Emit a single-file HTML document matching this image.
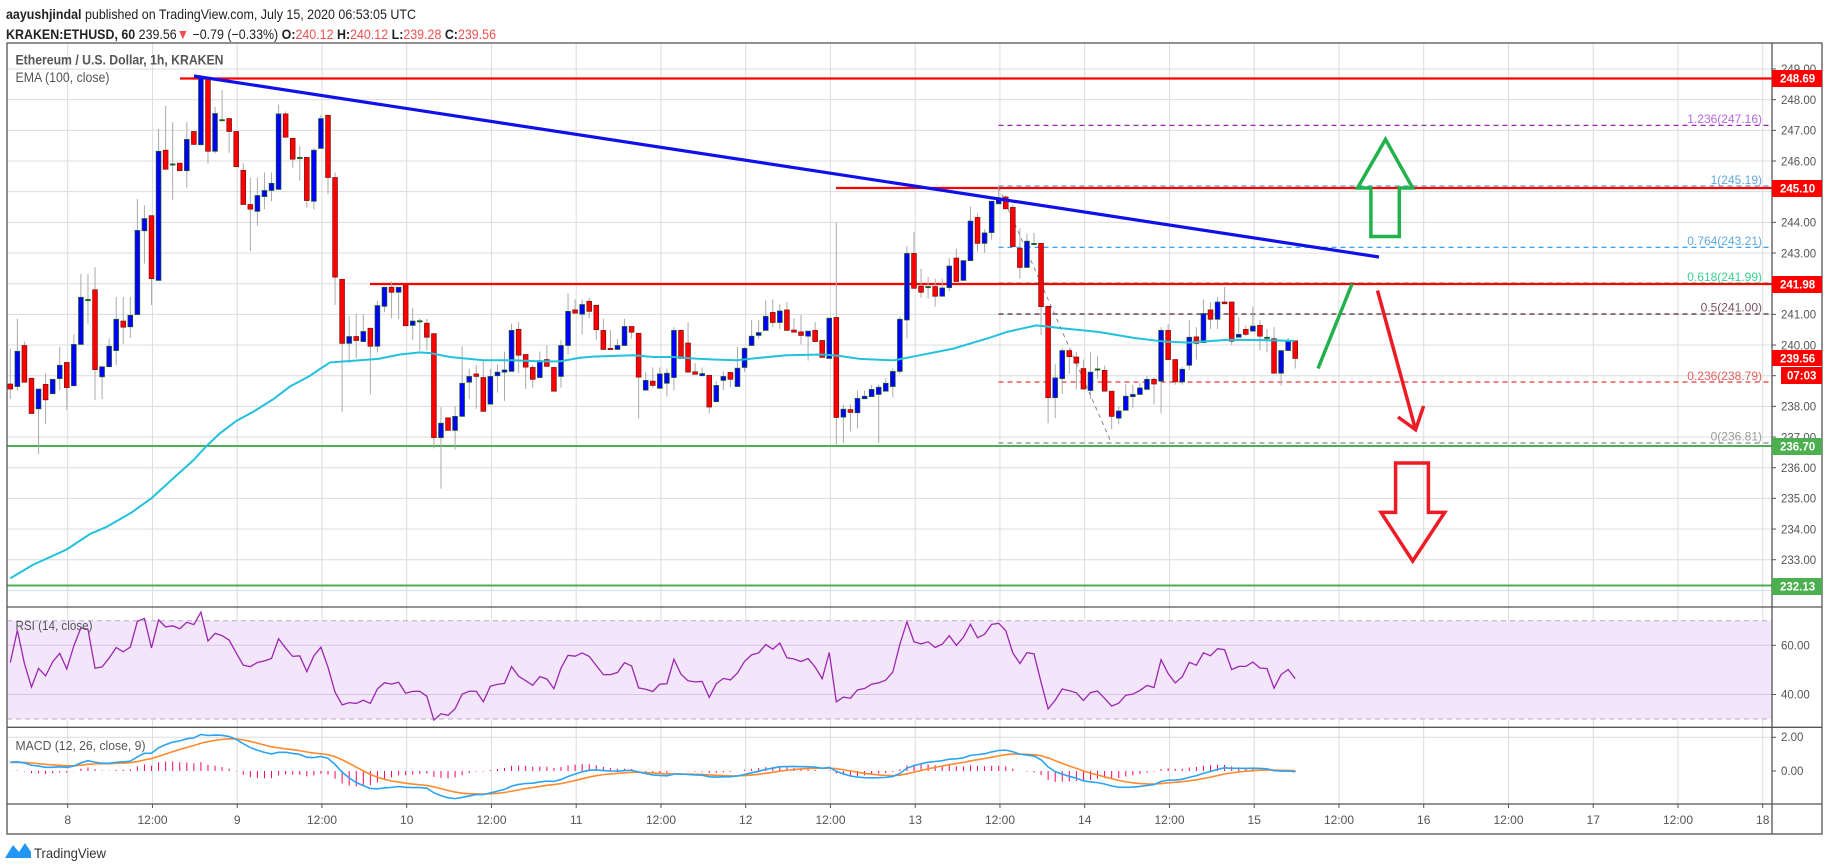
<!DOCTYPE html>
<html><head><meta charset="utf-8">
<style>
html,body{margin:0;padding:0;background:#fff;width:1828px;height:868px;overflow:hidden}
svg{display:block;font-family:"Liberation Sans",sans-serif}
</style></head><body>
<svg id="s" width="1828" height="868" viewBox="0 0 1828 868" xmlns="http://www.w3.org/2000/svg">
<rect width="1828" height="868" fill="#fff"/>
<g id="grid"></g>
<rect x="7" y="620.7" width="1765" height="98.4" fill="#f3e6fb"/>
<line x1="7" y1="620.7" x2="1772" y2="620.7" stroke="#b9a8c4" stroke-dasharray="5,4"/>
<line x1="7" y1="719" x2="1772" y2="719" stroke="#b9a8c4" stroke-dasharray="5,4"/>
<line x1="7" y1="645.3" x2="1772" y2="645.3" stroke="#d5c6df"/>
<line x1="7" y1="694.5" x2="1772" y2="694.5" stroke="#d5c6df"/>
<g id="draw"></g>
<g id="cand"></g>
<g id="ind"></g>
<g id="over"></g>
<!-- frames -->
<g stroke="#555" stroke-width="1.3" fill="none">
<rect x="7" y="43" width="1815" height="791"/>
<line x1="1772" y1="43" x2="1772" y2="834"/>
<line x1="7" y1="607" x2="1822" y2="607"/>
<line x1="7" y1="727.3" x2="1822" y2="727.3"/>
<line x1="7" y1="804" x2="1822" y2="804"/>
</g>
<g id="ticks" stroke="#555"></g>
<!-- header -->
<text x="6" y="19" font-size="14" fill="#222" textLength="410" lengthAdjust="spacingAndGlyphs"><tspan font-weight="bold">aayushjindal</tspan> published on TradingView.com, July 15, 2020 06:53:05 UTC</text>
<text x="6" y="39" font-size="14" fill="#222" textLength="490" lengthAdjust="spacingAndGlyphs"><tspan font-weight="bold">KRAKEN:ETHUSD, 60</tspan> 239.56<tspan fill="#f05050">▼</tspan> −0.79 (−0.33%) <tspan font-weight="bold">O:</tspan><tspan fill="#f05050">240.12</tspan> <tspan font-weight="bold">H:</tspan><tspan fill="#f05050">240.12</tspan> <tspan font-weight="bold">L:</tspan><tspan fill="#f05050">239.28</tspan> <tspan font-weight="bold">C:</tspan><tspan fill="#f05050">239.56</tspan></text>
<text x="15.5" y="64.5" font-size="14" font-weight="bold" fill="#555" textLength="208" lengthAdjust="spacingAndGlyphs">Ethereum / U.S. Dollar, 1h, KRAKEN</text>
<text x="15.5" y="82" font-size="14" fill="#555" textLength="94" lengthAdjust="spacingAndGlyphs">EMA (100, close)</text>
<text x="15.5" y="630" font-size="13" fill="#555" textLength="77" lengthAdjust="spacingAndGlyphs">RSI (14, close)</text>
<text x="15.5" y="750" font-size="13" fill="#555" textLength="130" lengthAdjust="spacingAndGlyphs">MACD (12, 26, close, 9)</text>
<!-- price axis labels -->
<g font-size="11.5" fill="#555">
<text x="1781" y="73">249.00</text><text x="1781" y="104">248.00</text><text x="1781" y="134.7">247.00</text>
<text x="1781" y="165.4">246.00</text><text x="1781" y="196">245.00</text><text x="1781" y="226.7">244.00</text>
<text x="1781" y="257.4">243.00</text><text x="1781" y="288">242.00</text><text x="1781" y="318.7">241.00</text>
<text x="1781" y="349.4">240.00</text><text x="1781" y="380">239.00</text><text x="1781" y="410.7">238.00</text>
<text x="1781" y="441.4">237.00</text><text x="1781" y="472">236.00</text><text x="1781" y="502.7">235.00</text>
<text x="1781" y="533.4">234.00</text><text x="1781" y="564">233.00</text>
<text x="1781" y="649.3">60.00</text><text x="1781" y="698.5">40.00</text>
<text x="1781" y="741">2.00</text><text x="1781" y="775">0.00</text>
</g>
<g font-size="11.5" font-weight="bold" fill="#fff">
<rect x="1772" y="70" width="50" height="17" fill="#ff0000"/><text x="1780" y="82.5">248.69</text>
<rect x="1772" y="180" width="50" height="17" fill="#ff0000"/><text x="1780" y="192.5">245.10</text>
<rect x="1772" y="276" width="50" height="17" fill="#ff0000"/><text x="1780" y="288.5">241.98</text>
<rect x="1772" y="350" width="50" height="16" fill="#ff0000"/><text x="1780" y="362.5">239.56</text>
<rect x="1781" y="367" width="41" height="17" fill="#ff0000"/><text x="1787" y="379.5">07:03</text>
<rect x="1772" y="438" width="50" height="17" fill="#4caf50"/><text x="1780" y="450.5">236.70</text>
<rect x="1772" y="578" width="50" height="17" fill="#4caf50"/><text x="1780" y="590.5">232.13</text>
</g>
<!-- fib labels -->
<g font-size="12" text-anchor="end">
<text x="1762" y="123" fill="#b667e0">1.236(247.16)</text>
<text x="1762" y="184" fill="#5fa8dc">1(245.19)</text>
<text x="1762" y="245" fill="#5fa8dc">0.764(243.21)</text>
<text x="1762" y="281" fill="#3ccf95">0.618(241.99)</text>
<text x="1762" y="311.5" fill="#7a5260">0.5(241.00)</text>
<text x="1762" y="380" fill="#e06060">0.236(238.79)</text>
<text x="1762" y="440.5" fill="#999">0(236.81)</text>
</g>
<!-- time axis -->
<g font-size="12" fill="#555" text-anchor="middle">
<text x="67.7" y="824">8</text><text x="152.5" y="824">12:00</text><text x="237.2" y="824">9</text><text x="322" y="824">12:00</text>
<text x="406.7" y="824">10</text><text x="491.5" y="824">12:00</text><text x="576.2" y="824">11</text><text x="661" y="824">12:00</text>
<text x="745.7" y="824">12</text><text x="830.5" y="824">12:00</text><text x="915.2" y="824">13</text><text x="1000" y="824">12:00</text>
<text x="1084.7" y="824">14</text><text x="1169.5" y="824">12:00</text><text x="1254.2" y="824">15</text><text x="1339" y="824">12:00</text>
<text x="1423.7" y="824">16</text><text x="1508.5" y="824">12:00</text><text x="1593.2" y="824">17</text><text x="1678" y="824">12:00</text>
<text x="1762.7" y="824">18</text>
</g>
<!-- logo -->
<path d="M5 858 L13 845 L19 852 L25 843 L31 852 L31 858 Z" fill="#2196f3"/>
<text x="34" y="858" font-size="14" fill="#333" textLength="72" lengthAdjust="spacingAndGlyphs">TradingView</text>
</svg>
<script>
var NS="http://www.w3.org/2000/svg";
function el(p,t,a){var e=document.createElementNS(NS,t);for(var k in a)e.setAttribute(k,a[k]);p.appendChild(e);return e;}
var G=document.getElementById('grid'),D=document.getElementById('draw'),C=document.getElementById('cand'),I=document.getElementById('ind'),O=document.getElementById('over'),T=document.getElementById('ticks');
// grid
for(var k=0;k<=20;k++){var x=67.7+k*84.75;el(G,'line',{x1:x,y1:43,x2:x,y2:804,stroke:'#dcdcdc'});el(T,'line',{x1:x,y1:804,x2:x,y2:808});}
for(var p=232;p<=249;p++){var y=69+(249-p)*30.67;el(G,'line',{x1:7,y1:y,x2:1772,y2:y,stroke:'#dcdcdc'});el(T,'line',{x1:1772,y1:y,x2:1776,y2:y});}
el(G,'line',{x1:7,y1:737.3,x2:1772,y2:737.3,stroke:'#dcdcdc'});
[645.3,694.5,737.3,771].forEach(function(y){el(T,'line',{x1:1772,y1:y,x2:1776,y2:y});});
function Y(py){return 43+py/2.78;}
// drawings
function L(x1,y1,x2,y2,c,w,d){var a={x1:x1,y1:y1,x2:x2,y2:y2,stroke:c,'stroke-width':w};if(d)a['stroke-dasharray']=d;return el(D,'line',a);}
L(998.5,125.4,1772,125.4,'#9c27b0',1.2,'5,4');
L(998.5,186,1772,186,'#4aa3df',1.2,'5,4');
L(998.5,247.3,1772,247.3,'#2196f3',1.2,'5,4');
L(998.5,283,1772,283,'#26c6a0',1.2,'5,4');
L(998.5,314,1772,314,'#5a2030',1.2,'5,4');
L(998.5,382,1772,382,'#e53935',1.2,'5,4');
L(998.5,443,1772,443,'#888',1.2,'5,4');
L(998.5,187,1111,442,'#888',1,'4,4');
L(180,78.5,1772,78.5,'#ff0000',2.2);
L(836,188,1772,188,'#ff0000',2.2);
L(370,284,1772,284,'#ff0000',2.2);
L(7,446,1772,446,'#4caf50',2);
L(7,585.5,1772,585.5,'#4caf50',2);
// candles
var d7=[[948,962,0,850,990],[857,955,1,767,967],[841,943,0,830,0],[932,1030,0,0,0],[962,1017,1,0,1142],[949,992,0,918,1060],[935,975,1,0,0],[896,933,1,845,965],[888,958,0,0,1020],[838,953,1,810,0],[707,838,1,642,0],[713,713,2,642,780],[686,908,0,623,993],[900,928,1,0,990],[843,900,1,822,0],[768,855,1,706,895],[773,790,0,706,836],[757,789,1,706,820],[521,755,1,434,0],[488,522,1,451,613],[480,655,0,0,728],[301,660,1,239,0],[298,351,0,175,0],[336,336,2,220,436],[334,355,0,0,0],[268,355,1,220,402],[246,282,0,0,0],[97,283,1,0,0],[97,301,0,0,335],[196,301,1,178,308],[213,213,2,131,0],[210,246,0,0,305],[246,344,0,0,0],[354,449,0,334,0],[449,462,0,374,578],[424,468,1,374,508],[410,427,1,360,462],[390,410,1,360,440],[197,407,1,171,0],[197,262,0,190,0],[265,323,0,0,347],[318,318,2,287,383],[318,438,0,0,458],[298,440,1,292,463],[210,293,1,200,0],[201,374,0,0,420],[374,651,0,360,728],[657,835,0,0,1027],[816,835,1,760,890],[816,827,0,753,876],[802,830,1,753,0],[793,843,0,0,977],[730,843,1,717,860],[679,732,1,0,748],[679,693,0,663,765],[679,693,1,0,767],[674,786,0,0,0],[773,785,1,737,826],[772,772,2,765,855],[779,818,0,767,855],[808,1097,0,0,1127],[1057,1097,1,1012,1239],[1042,1077,0,0,0],
[1038,1077,1,1010,1130],[946,1038,1,843,0],[927,943,1,905,990],[920,927,0,895,1017],[930,1024,0,884,0],[927,1004,1,906,0],[915,925,1,893,972],[909,915,1,858,995],[799,913,1,780,0],[796,868,0,776,918],[866,901,0,0,962],[902,935,0,895,958],[883,930,1,858,0],[880,899,0,841,0],[902,968,0,0,0],[841,927,1,826,958],[746,841,1,696,866],[742,751,0,713,0],[727,754,1,713,810],[718,746,0,709,765],[729,797,0,0,825],[799,852,0,767,0],[849,852,0,798,0],[841,852,1,823,0],[788,841,1,767,0],[788,804,0,0,822],[807,929,0,0,1044],[938,965,1,915,0],[940,952,0,902,958],[920,960,1,902,0],[918,946,1,905,983],[799,930,1,790,966],[799,877,0,796,0],[834,915,0,776,0],[914,921,0,890,0],[919,925,1,902,0],[924,1012,0,0,1030],[952,997,1,940,1000],[927,938,1,913,965],[916,935,0,913,957],[904,955,1,845,0],[849,902,1,845,914],[815,841,1,770,0],[805,813,1,770,822],[760,799,1,716,0],[749,777,0,713,790],[745,777,1,727,795],[742,799,0,720,0],[798,804,0,765,0],[803,813,0,756,838],[801,815,1,0,883],[799,830,0,776,0],[827,874,0,0,0],[765,877,1,765,0],[763,1041,0,499,1117],[1018,1040,1,1006,1112],[1019,1027,0,1004,1080],[988,1028,1,966,1072],[982,989,1,966,0],[963,983,1,950,0],[957,977,1,950,1112],[946,968,1,932,0],
[913,955,1,905,985],[768,913,1,760,920],[585,770,1,565,822],[585,682,0,525,0],[676,693,0,628,708],[677,677,2,650,710],[677,704,0,655,733],[681,704,1,655,0],[620,680,1,598,690],[598,663,0,572,0],[605,660,1,0,0],[495,605,1,455,0],[485,557,0,474,580],[528,557,1,518,583],[440,527,1,0,547],[430,447,1,397,0],[428,461,0,423,0],[457,566,0,450,0],[571,624,0,515,655],[551,624,1,530,0],[557,557,2,528,0],[557,733,0,0,812],[732,986,0,0,1057],[931,986,1,893,1043],[855,933,1,848,975],[855,872,0,0,920],[873,890,0,858,963],[905,962,0,880,0],[915,966,1,860,990],[906,906,2,870,933],[910,968,0,897,0],[968,1038,0,0,1074],[1023,1043,1,1010,1060],[982,1021,1,948,0],[977,983,1,950,1015],[959,977,1,945,0],[935,963,1,925,0],[935,948,0,930,1005],[799,940,1,790,1030],[799,880,0,782,0],[880,942,0,0,950],[907,942,1,900,950],[818,896,1,770,910],[817,835,0,790,880],[752,833,1,713,0],[742,768,0,720,795],[720,768,1,705,795],[720,725,0,678,0],[720,829,0,0,840],[810,818,1,762,0],[796,810,0,785,815],[787,801,1,732,0],[785,815,0,770,855],[818,818,2,795,860],[822,918,0,790,0],[855,918,1,0,952],[830,855,1,820,0],[828,877,0,0,905]];
var closes=[];
d7.forEach(function(c,i){
 var x=10.3+i*7.06,t=c[0],b=c[1],wt=c[3]||t,wb=c[4]||b;
 wt=Math.min(wt,t);wb=Math.max(wb,b);
 el(C,'line',{x1:x,y1:Y(wt),x2:x,y2:Y(wb),stroke:'#aaa','stroke-width':1});
 var yt=Y(t),yb=Y(b),h=Math.max(yb-yt,1.2);
 var fill=c[2]==1?'#0000ff':(c[2]==0?'#ff0000':'#1b5e20');
 el(C,'rect',{x:x-2.4,y:yt,width:4.8,height:h,fill:fill,stroke:c[2]==0?'#7a1010':'#1b5e20','stroke-width':0.7});
 var cpy=c[2]==1?t:b;
 closes.push(248-(cpy-159)/85.2);
});
// EMA trace
var e7=[[31,1488],[100,1450],[200,1408],[270,1365],[320,1345],[395,1305],[455,1265],[520,1210],[580,1160],[620,1120],[660,1085],[710,1050],[760,1025],[820,990],[870,955],[930,925],[965,903],[990,888],[1050,884],[1135,878],[1200,866],[1260,860],[1290,862],[1350,873]];
var e8=[[130,882],[220,882],[300,885],[360,885],[420,875],[460,872],[580,868],[640,873],[700,873],[760,877],[820,880],[890,882],[960,875],[1040,868],[1150,866],[1200,870],[1260,878],[1350,882]];
var e9=[[40,882],[100,870],[200,850],[300,820],[350,803],[430,785],[450,787],[500,793],[600,803],[700,820],[780,830],[850,833],[900,829],[960,825],[1050,826],[1140,828]];
var pts=[];e7.forEach(function(p){pts.push((p[0]/3)+','+Y(p[1]));});
e8.forEach(function(p){pts.push((440+p[0]/3)+','+Y(p[1]));});
e9.forEach(function(p){pts.push((880+p[0]/2.75)+','+Y(p[1]));});
el(C,'polyline',{points:pts.join(' '),fill:'none',stroke:'#22c1dc','stroke-width':2});
// trendline + arrows
el(O,'line',{x1:194,y1:76,x2:1379,y2:257,stroke:'#1010e8','stroke-width':3.2});
el(O,'polygon',{points:'1385.5,139.4 1357.5,188 1370.9,188 1370.9,236.5 1399.3,236.5 1399.3,188 1412.7,188',fill:'none',stroke:'#22b14c','stroke-width':3.5,'stroke-linejoin':'miter'});
el(O,'line',{x1:1318,y1:368.5,x2:1352,y2:284,stroke:'#22b14c','stroke-width':3.5});
el(O,'polyline',{points:'1377.5,290.5 1415.6,429.7',fill:'none',stroke:'#ed1c24','stroke-width':3.5});
el(O,'polyline',{points:'1398,417 1415.6,429.7 1423.6,406',fill:'none',stroke:'#ed1c24','stroke-width':3.5});
el(O,'polygon',{points:'1395.6,463 1428.4,463 1428.4,512.4 1444.7,512.4 1412.7,561 1381,512.4 1395.6,512.4',fill:'none',stroke:'#ed1c24','stroke-width':3.5});
// RSI
var ag=0,al=0,rsi=[];
for(var i=0;i<closes.length;i++){
 if(i==0){ag=0.12;al=0.11;rsi.push(53);continue;}
 var ch=closes[i]-closes[i-1];ag=(ag*13+Math.max(ch,0))/14;al=(al*13+Math.max(-ch,0))/14;
 rsi.push(100-100/(1+ag/(al||1e-6)));
}
var rp=rsi.map(function(r,i){r=Math.max(26,Math.min(74,r));return (10.3+i*7.06)+','+(620.7+(70-r)*2.46);});
el(I,'polyline',{points:rp.join(' '),fill:'none',stroke:'#9c27b0','stroke-width':1.3});
// MACD
var e12=closes[0]+0.5,e26=closes[0]-0.1,sig=0.5,mac=[],sg=[];
for(var i=0;i<closes.length;i++){e12+=(closes[i]-e12)*2/13;e26+=(closes[i]-e26)*2/27;var m=e12-e26;sig+=(m-sig)*0.2;mac.push(m);sg.push(sig);}
for(var i=0;i<closes.length;i++){var x=10.3+i*7.06,h=(mac[i]-sg[i])*17;el(I,'line',{x1:x,y1:771,x2:x,y2:771-h,stroke:'#ff0060','stroke-width':1});}
el(I,'polyline',{points:sg.map(function(v,i){return (10.3+i*7.06)+','+(771-v*17);}).join(' '),fill:'none',stroke:'#ff8a30','stroke-width':1.6});
el(I,'polyline',{points:mac.map(function(v,i){return (10.3+i*7.06)+','+(771-v*17);}).join(' '),fill:'none',stroke:'#2aa4f4','stroke-width':1.6});
</script>
</body></html>
